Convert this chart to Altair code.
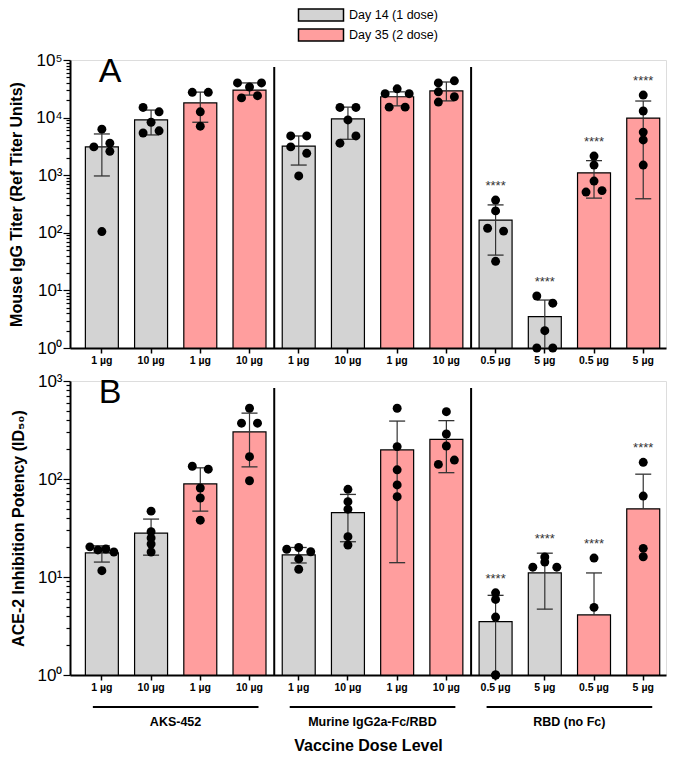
import altair as alt
import pandas as pd

D14 = "Day 14 (1 dose)"
D35 = "Day 35 (2 dose)"

groups = ["AKS-452"] * 4 + ["Murine IgG2a-Fc/RBD"] * 4 + ["RBD (no Fc)"] * 4
doses = ["1 µg", "10 µg", "1 µg", "10 µg",
         "1 µg", "10 µg", "1 µg", "10 µg",
         "0.5 µg", "5 µg", "0.5 µg", "5 µg"]
days = [D14, D14, D35, D35] * 3
stars = [""] * 8 + ["****"] * 4

# Panel A: Mouse IgG titer (mean, +SD, -SD, individual animals)
A_mean = [3100, 9100, 18000, 30000, 3200, 9500, 23000, 29000, 166, 3.5, 1100, 9800]
A_hi = [5200, 13500, 27700, 40000, 4800, 15200, 28000, 41500, 305, 6.8, 1790, 19400]
A_lo = [970, 5000, 8300, 24600, 1500, 4200, 16000, 19500, 41, 0.3, 400, 390]
A_pts = [
    [6300, 3100, 3600, 2600, 105],
    [15000, 12600, 8300, 5400, 5900],
    [27500, 27500, 12600, 7100],
    [40000, 40000, 34000, 22000, 24000],
    [4800, 4800, 3100, 2400, 970],
    [15000, 15000, 9100, 4800, 3600],
    [31600, 26000, 26000, 15200, 15200],
    [43500, 40000, 28000, 23000, 18600],
    [370, 240, 120, 107, 32],
    [8, 6, 2.0, 1.0, 1.0],
    [2150, 1500, 790, 510, 540],
    [24600, 13000, 5600, 4100, 1500],
]
A_slots = [
    [0, -2, 2, 2, 0],
    [-2, 2, 0, -2, 2],
    [-2, 2, 0, 0],
    [-3, 3, 0, -2, 2],
    [-2, 2, -2, 2, 0],
    [-2, 2, 0, 2, -2],
    [0, -3, 3, -2, 2],
    [2, -2, -2, 2, -2],
    [0, 0, -2, 2, 0],
    [-2, 2, 0, -2, 2],
    [0, 0, 0, -2, 2],
    [0, 0, 0, 0, 0],
]

# Panel B: ACE-2 inhibition potency
B_mean = [17.6, 28, 89, 302, 16.8, 45.3, 198, 254, 3.5, 11, 4.1, 49.6]
B_hi = [20.8, 39, 130, 470, 20, 69.6, 390, 394, 6.5, 17.5, 11, 112]
B_lo = [14.2, 16.7, 47, 133, 13.9, 22.9, 14, 116, 0.3, 4.7, None, None]
B_pts = [
    [20.3, 18.9, 19.3, 18.0, 11.6],
    [47, 29, 25, 21.7, 18],
    [135, 126, 81, 64, 38],
    [527, 371, 371, 169, 96],
    [19.2, 20, 18.1, 15.3, 12],
    [78.5, 58.7, 49.2, 25.8, 21.2],
    [527, 214, 124, 87, 66],
    [486, 288, 217, 141, 156],
    [6.9, 5.9, 3.9, 1.0, 1.0],
    [16, 14.2, 12.6, 12.6],
    [15.6, 4.9],
    [148, 67, 19.6, 16.1],
]
B_slots = [
    [-3, -1, 1, 3, 0],
    [0, 0, 0, 0, 0],
    [-2, 2, 0, 0, 0],
    [0, -2, 2, 0, 0],
    [-3, 0, 3, 0, 0],
    [0, 0, 0, 0, 0],
    [0, 0, 0, 0, 0],
    [0, 0, 0, -2, 2],
    [0, 0, 0, 0, 0],
    [0, 0, -3, 3],
    [0, 0],
    [0, 0, 0, 0],
]

cats = [f"{i:02d}|{d}" for i, d in enumerate(doses)]
FONT = "Liberation Sans"
W = 596
GRAY = "#D3D3D3"
PINK = "#FF9E9E"
SUP = "['⁰','¹','²','³','⁴','⁵','⁶']"
IS_DEC = "abs(log(datum.value)/LN10 - round(log(datum.value)/LN10)) < 0.001"

xscale = alt.Scale(domain=cats, paddingInner=0.33, paddingOuter=0.22, align=0.71)


def x_axis(title, pad):
    kw = dict(labelExpr="split(datum.label,'|')[1]", labelAngle=0, labelFontSize=10.5,
              labelFontWeight="bold", labelFont=FONT, labelColor="black",
              tickColor="black", tickSize=5, tickWidth=1.5, domainColor="black",
              domainWidth=2, labelPadding=2, grid=False)
    if title:
        kw.update(titleFont=FONT, titleFontSize=16, titleFontWeight="bold",
                  titleColor="black", titlePadding=pad)
    return alt.Axis(**kw)


def build(mean, hi, lo, pts, slots, top_exp, ytitle, letter, H, xtitle):
    yvals = [k * 10 ** e for e in range(top_exp) for k in range(1, 10)] + [10 ** top_exp]
    yscale = alt.Scale(type="log", domain=[1, 10 ** top_exp], nice=False)
    yaxis = alt.Axis(values=yvals,
                     labelExpr=f"{IS_DEC} ? '10' + {SUP}[round(log(datum.value)/LN10)] : ''",
                     labelFontSize=17, labelFont=FONT, labelColor="black",
                     tickColor="black", domainColor="black", domainWidth=2, tickWidth=1.2,
                     tickSize={"condition": {"test": IS_DEC, "value": 7}, "value": 4},
                     labelOverlap=False, labelPadding=1, labelBound=False, labelFlush=False,
                     titleFont=FONT, titleFontSize=16, titleFontWeight="bold",
                     titleColor="black", titlePadding=11, grid=False)
    xaxis = x_axis(xtitle, 45)
    X = alt.X("cat:N", scale=xscale, axis=xaxis, title=xtitle if xtitle else None)

    bars = pd.DataFrame({
        "cat": cats, "day": days, "mean": mean, "hi": hi,
        "lo": [l if l is not None else m for l, m in zip(lo, mean)],
        "star": stars,
        "starY": [max([h] + p) for h, p in zip(hi, pts)],
    })
    caplo = pd.DataFrame({"cat": [c for c, l in zip(cats, lo) if l is not None and l >= 1],
                          "lo": [l for l in lo if l is not None and l >= 1]})
    rows = []
    for c, ps, ss in zip(cats, pts, slots):
        for v, s in zip(ps, ss):
            rows.append({"cat": c, "v": v, "slot": s})
    pdf = pd.DataFrame(rows)

    color = alt.Color("day:N", scale=alt.Scale(domain=[D14, D35], range=[GRAY, PINK]),
                      legend=alt.Legend(title=None, orient="none", legendX=244, legendY=-52,
                                        symbolType="M-3.75,-1H3.75V1H-3.75Z", symbolSize=144,
                                        symbolStrokeColor="black", symbolStrokeWidth=1.5,
                                        symbolOpacity=1, labelFont=FONT, labelFontSize=12.5,
                                        labelColor="black", rowPadding=2, labelOffset=21))

    base_bar = alt.Chart(bars).mark_bar(stroke="black", strokeWidth=1.2, opacity=1).encode(
        x=X,
        y=alt.Y("mean:Q", scale=yscale, axis=yaxis, title=ytitle, stack=None),
        color=color,
    )
    err = alt.Chart(bars).mark_rule(color="#333333", strokeWidth=1.2, clip=True).encode(
        x=X, y=alt.Y("lo:Q", scale=yscale), y2="hi:Q")
    cap_hi = alt.Chart(bars).mark_tick(color="#333333", thickness=1.3, size=16, opacity=1).encode(
        x=X, y=alt.Y("hi:Q", scale=yscale))
    cap_lo = alt.Chart(caplo).mark_tick(color="#333333", thickness=1.3, size=16, opacity=1).encode(
        x=X, y=alt.Y("lo:Q", scale=yscale))
    layers = [base_bar, err, cap_hi, cap_lo]
    for s in sorted(set(v for row in slots for v in row)):
        layers.append(
            alt.Chart(pdf).transform_filter(alt.datum.slot == s)
            .mark_circle(size=80, color="black", opacity=1, xOffset=s * 4)
            .encode(x=X, y=alt.Y("v:Q", scale=yscale)))
    layers.append(
        alt.Chart(bars).transform_filter(alt.datum.star != "")
        .mark_text(dy=-14, fontSize=13, font=FONT, color="#333333")
        .encode(x=X, y=alt.Y("starY:Q", scale=yscale), text="star:N"))
    # group separators
    sep = pd.DataFrame({"cat": [cats[4], cats[8]]})
    layers.append(
        alt.Chart(sep).mark_rule(color="black", strokeWidth=2, xOffset=-8)
        .encode(x=alt.X("cat:N", scale=xscale, axis=xaxis, bandPosition=0,
                        title=xtitle if xtitle else None),
                y=alt.value(7), y2=alt.value(H)))
    layers.append(
        alt.Chart(pd.DataFrame({"t": [letter]}))
        .mark_text(fontSize=34, font=FONT, color="black", align="center", baseline="middle")
        .encode(x=alt.value(40), y=alt.value(12), text="t:N"))
    if xtitle:
        gnames = ["AKS-452", "Murine IgG2a-Fc/RBD", "RBD (no Fc)"]
        gdf = pd.DataFrame({
            "first": [cats[groups.index(g)] for g in gnames],
            "last": [cats[len(groups) - 1 - groups[::-1].index(g)] for g in gnames],
            "mid": [cats[groups.index(g) + 1] for g in gnames],
            "name": gnames,
        })
        layers.append(
            alt.Chart(gdf).mark_rule(color="black", strokeWidth=2, xOffset=-9, x2Offset=9)
            .encode(x=alt.X("first:N", scale=xscale, axis=xaxis, title=xtitle),
                    x2="last:N", y=alt.value(H + 32)))
        layers.append(
            alt.Chart(gdf).mark_text(fontSize=12.5, font=FONT, fontWeight="bold",
                                     color="black", baseline="middle", xOffset=8)
            .encode(x=alt.X("mid:N", scale=xscale, axis=xaxis, bandPosition=1, title=xtitle),
                    y=alt.value(H + 47), text="name:N"))
    return alt.layer(*layers).properties(width=W, height=H)


panelA = build(A_mean, A_hi, A_lo, A_pts, A_slots, 5,
               "Mouse IgG Titer (Ref Titer Units)", "A", 288, None)
panelB = build(B_mean, B_hi, B_lo, B_pts, B_slots, 3,
               "ACE-2 Inhibition Potency (ID₅₀)", "B", 294, "Vaccine Dose Level")

chart = alt.vconcat(panelA, panelB, spacing=5).properties(
    padding={"left": 0, "top": 0, "right": 5, "bottom": 2}
).configure_view(stroke=None).configure(font=FONT)

chart.save("out.html", embed_options={"renderer": "svg", "actions": False})
